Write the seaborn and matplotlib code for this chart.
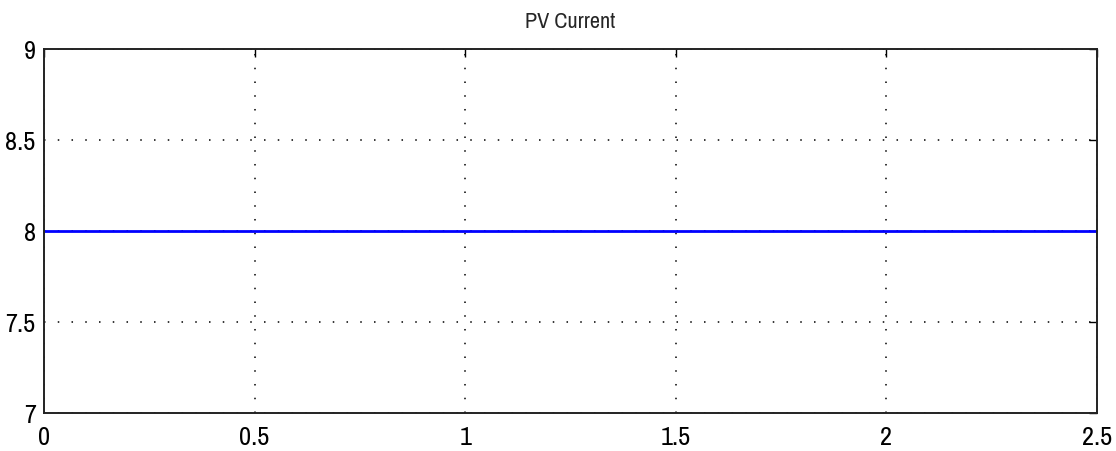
import matplotlib
matplotlib.use("Agg")
import matplotlib.pyplot as plt
from matplotlib import font_manager as fm
import seaborn as sns
import pandas as pd

# PV current trace (A) over simulation time (s)
time_s = [0.0, 0.5, 1.0, 1.5, 2.0, 2.5]
pv_current = [8.0, 8.0, 8.0, 8.0, 8.0, 8.0]

x_ticks = [0, 0.5, 1, 1.5, 2, 2.5]
x_labels = ["0", "0.5", "1", "1.5", "2", "2.5"]
y_ticks = [7, 7.5, 8, 8.5, 9]
y_labels = ["7", "7.5", "8", "8.5", "9"]

sns.set_style("white")

# pick a condensed sans face when one is installed
names = sorted({f.name for f in fm.fontManager.ttflist})
narrow = [n for n in names if "Narrow" in n or "Condensed" in n]
cond_entries = [f for f in fm.fontManager.ttflist
                if str(f.stretch) in ("condensed", "semi-condensed", "extra-condensed")
                or (isinstance(f.stretch, int) and f.stretch < 500)]
if narrow:
    family = [narrow[0], "DejaVu Sans"]
    stretch = "normal"
    size_tick, size_title = 19, 16
elif cond_entries:
    family = [cond_entries[0].name, "DejaVu Sans"]
    stretch = "condensed"
    size_tick, size_title = 19, 16
else:
    family = ["Liberation Sans", "DejaVu Sans"]
    stretch = "normal"
    size_tick, size_title = 16, 14

plt.rcParams["font.family"] = family
plt.rcParams["font.stretch"] = stretch

df = pd.DataFrame({"t": time_s, "i": pv_current})

fig = plt.figure(figsize=(11.16, 4.52), dpi=100)
ax = fig.add_axes([44 / 1116, 1 - 414 / 452, (1097 - 44) / 1116, (414 - 50) / 452])

sns.lineplot(data=df, x="t", y="i", ax=ax, color="#0000ff", linewidth=2)

ax.set_xlim(0, 2.5)
ax.set_ylim(7, 9)
ax.set_xticks(x_ticks)
ax.set_xticklabels(x_labels)
ax.set_yticks(y_ticks)
ax.set_yticklabels(y_labels)
ax.set_xlabel("")
ax.set_ylabel("")

ax.grid(True, color="black", linestyle=(0, (1, 8)), linewidth=1.1)
ax.tick_params(direction="in", length=6, width=1, colors="black",
               top=True, right=True, labelsize=size_tick, pad=6)
ax.tick_params(axis="x", pad=9)
for s in ax.spines.values():
    s.set_color("#222222")
    s.set_linewidth(1.4)

ax.set_title("PV Current", fontsize=size_title, pad=16)

fig.savefig("out.png", dpi=100)
